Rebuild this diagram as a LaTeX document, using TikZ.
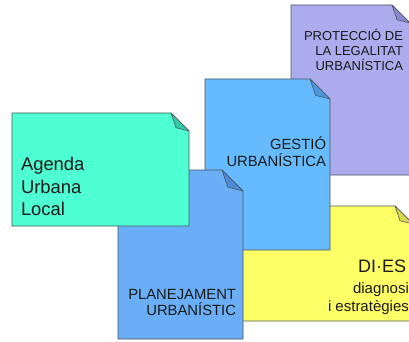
\documentclass[tikz,border=0pt]{standalone}
\usepackage{fontspec}
\setmainfont{Liberation Sans}
\definecolor{edge}{HTML}{4A5560}
\definecolor{txt}{HTML}{1A1A1A}
\definecolor{purp}{HTML}{ABABEE}
\definecolor{purpd}{HTML}{8A8AD0}
\definecolor{gest}{HTML}{66BBFF}
\definecolor{gestd}{HTML}{4D98DD}
\definecolor{yell}{HTML}{FFFF66}
\definecolor{yelld}{HTML}{D8D84A}
\definecolor{plan}{HTML}{6AAEF7}
\definecolor{pland}{HTML}{4F8AD6}
\definecolor{agen}{HTML}{4DFFD2}
\definecolor{agend}{HTML}{33C9A6}
\tikzset{
  docedge/.style={draw=edge, line width=0.9pt, line join=round},
  lbl/.style={inner sep=0pt, outer sep=0pt, text=txt},
}
% #1 L, #2 T, #3 R, #4 B, #5 fold, #6 fill, #7 fold fill
\newcommand{\mydocshape}[7]{%
  \path[docedge, fill=#6] (#1,#2) -- ({#3-#5},#2) -- (#3,{#2+#5}) -- (#3,#4) -- (#1,#4) -- cycle;
  \path[docedge, fill=#7, line width=0.6pt] ({#3-#5},#2) -- ({#3-0.72*#5},{#2+0.82*#5}) -- (#3,{#2+#5}) -- cycle;
}
\begin{document}
\begin{tikzpicture}[x=1pt, y=-1pt]
\useasboundingbox (0,0) rectangle (409,342);
\fill[white] (0,0) rectangle (409,342);
% purple
\mydocshape{291}{5}{410}{175}{18}{purp}{purpd}
\node[lbl, anchor=base east, font=\fontsize{13}{15}\selectfont] (p1) at (403,41) {PROTECCIÓ DE};
\node[lbl, anchor=base east, font=\fontsize{13}{15}\selectfont] (p2) at (403,56) {LA LEGALITAT};
\node[lbl, anchor=base east, font=\fontsize{13}{15}\selectfont] (p3) at (403,71) {URBANÍSTICA};
% yellow
\mydocshape{200}{206}{413}{321}{18}{yell}{yelld}
\node[lbl, anchor=base west, font=\fontsize{18}{20}\selectfont] (y1) at (358,272) {DI·ES};
\node[lbl, anchor=base west, font=\fontsize{15}{17}\selectfont] (y2) at (353,293) {diagnosi};
\node[lbl, anchor=base west, font=\fontsize{15}{17}\selectfont] (y3) at (328,311) {i estratègies};
% gestio
\mydocshape{205}{79}{330}{250}{20}{gest}{gestd}
\node[lbl, anchor=base east, font=\fontsize{14.8}{17}\selectfont] (g1) at (326,149) {GESTIÓ};
\node[lbl, anchor=base east, font=\fontsize{14.8}{17}\selectfont] (g2) at (326,166) {URBANÍSTICA};
% planejament
\mydocshape{118}{170}{243}{339}{21}{plan}{pland}
\node[lbl, anchor=base east, font=\fontsize{14.8}{17}\selectfont] (n1) at (236,299) {PLANEJAMENT};
\node[lbl, anchor=base east, font=\fontsize{14.8}{17}\selectfont] (n2) at (236,315) {URBANÍSTIC};
% agenda
\mydocshape{12}{113}{189}{226}{18}{agen}{agend}
\node[lbl, anchor=base west, font=\fontsize{18.4}{22}\selectfont] (a1) at (21,170) {Agenda};
\node[lbl, anchor=base west, font=\fontsize{18.4}{22}\selectfont] (a2) at (21,193) {Urbana};
\node[lbl, anchor=base west, font=\fontsize{18.4}{22}\selectfont] (a3) at (21,215) {Local};
\end{tikzpicture}
\end{document}
